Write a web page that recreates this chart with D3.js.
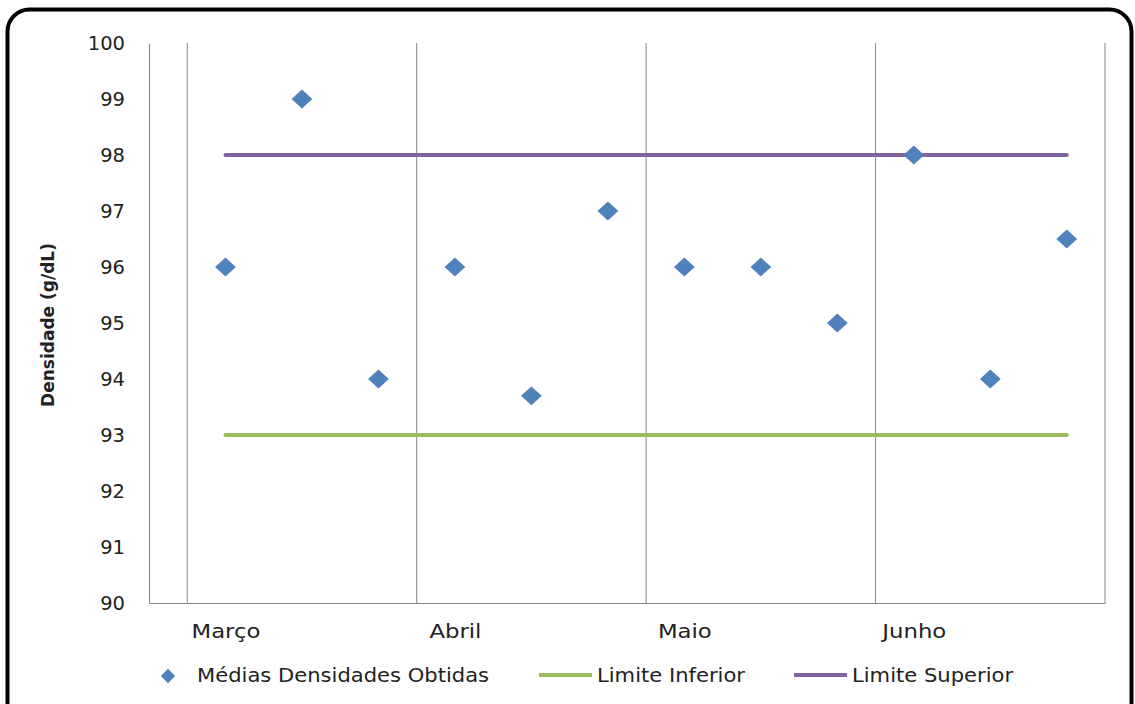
<!DOCTYPE html>
<html>
<head>
<meta charset="utf-8">
<script src="https://cdn.jsdelivr.net/npm/d3@7"></script>
<style>
  html, body { margin: 0; padding: 0; background: #ffffff; }
  svg { display: block; }
  text { font-family: "DejaVu Sans", "Open Sans", sans-serif; fill: #222; }
</style>
</head>
<body>
<svg id="chart" width="1135" height="704"></svg>
<script>
// Monthly density samples (three per month)
const sampleIndex = [1, 2, 3, 4, 5, 6, 7, 8, 9, 10, 11, 12];
const densityValues = [96, 99, 94, 96, 93.7, 97, 96, 96, 95, 98, 94, 96.5];
const monthLabels = ["Março", "Abril", "Maio", "Junho"];
const monthTickPositions = [1, 4, 7, 10];
const monthGridPositions = [0.5, 3.5, 6.5, 9.5, 12.5];
const yTicks = [90, 91, 92, 93, 94, 95, 96, 97, 98, 99, 100];
const lowerLimit = [93, 93];
const upperLimit = [98, 98];
const limitRange = [1, 12];
const seriesNames = ["Médias Densidades Obtidas", "Limite Inferior", "Limite Superior"];

const colors = { points: "#4F81BD", lower: "#9BBB59", upper: "#8064A2" };

const svg = d3.select("#chart");

// Rounded frame
svg.append("rect")
  .attr("x", 7.5).attr("y", 9.5)
  .attr("width", 1124).attr("height", 720)
  .attr("rx", 22).attr("ry", 22)
  .attr("fill", "#fff").attr("stroke", "#000").attr("stroke-width", 4);

const plot = { left: 149, right: 1105, top: 43, bottom: 603 };

const x = d3.scaleLinear().domain([0, 12.5]).range([plot.left, plot.right]);
const y = d3.scaleLinear().domain([90, 100]).range([plot.bottom, plot.top]);

// Vertical month gridlines
svg.append("g").selectAll("line")
  .data(monthGridPositions).join("line")
  .attr("x1", d => x(d)).attr("x2", d => x(d))
  .attr("y1", y(100)).attr("y2", y(90))
  .attr("stroke", "#878787").attr("stroke-width", 1);

// Y axis
const yAxis = svg.append("g")
  .attr("transform", `translate(${plot.left},0)`)
  .call(d3.axisLeft(y).tickValues(yTicks).tickSize(0).tickPadding(24).tickFormat(d3.format("d")));
yAxis.select(".domain").attr("stroke", "#878787");
yAxis.selectAll("text").attr("font-size", 19.5).attr("fill", "#222")
  .attr("font-family", "DejaVu Sans, sans-serif");

// X axis (labels slightly widened)
const xAxis = svg.append("g")
  .attr("transform", `translate(0,${plot.bottom})`)
  .call(d3.axisBottom(x).tickValues(monthTickPositions).tickSize(0).tickPadding(22)
    .tickFormat((d, i) => monthLabels[i]));
xAxis.select(".domain").attr("stroke", "#878787");
xAxis.selectAll("text").attr("font-size", 19).attr("fill", "#222")
  .attr("font-family", "DejaVu Sans, sans-serif")
  .attr("transform", "scale(1.2,1)");

// Y axis title
svg.append("text")
  .attr("transform", `translate(54,${(plot.top + plot.bottom) / 2 + 2}) rotate(-90)`)
  .attr("text-anchor", "middle")
  .attr("font-size", 17).attr("font-weight", "bold")
  .attr("font-family", "Liberation Sans Narrow, Roboto Condensed, Liberation Sans, sans-serif")
  .attr("fill", "#111")
  .text("Densidade (g/dL)");

// Limit lines
const limitLine = d3.line().x(d => x(d[0])).y(d => y(d[1]));
svg.append("path")
  .datum(limitRange.map((r, i) => [r, lowerLimit[i]]))
  .attr("d", limitLine)
  .attr("fill", "none").attr("stroke", colors.lower).attr("stroke-width", 4)
  .attr("stroke-linecap", "round");
svg.append("path")
  .datum(limitRange.map((r, i) => [r, upperLimit[i]]))
  .attr("d", limitLine)
  .attr("fill", "none").attr("stroke", colors.upper).attr("stroke-width", 4)
  .attr("stroke-linecap", "round");

// Diamond markers
const diamond = d3.symbol().type(d3.symbolDiamond2).size(250);
svg.append("g").selectAll("path")
  .data(sampleIndex.map((s, i) => [s, densityValues[i]]))
  .join("path")
  .attr("d", diamond)
  .attr("transform", d => `translate(${x(d[0])},${y(d[1])}) scale(1.05,0.95)`)
  .attr("fill", colors.points);

// Legend
const legend = svg.append("g").attr("font-size", 19);
legend.append("path")
  .attr("d", d3.symbol().type(d3.symbolDiamond2).size(130))
  .attr("transform", "translate(168,676)")
  .attr("fill", colors.points);

const legendText = (x0, label) => legend.append("text")
  .attr("transform", `translate(${x0},682) scale(1.11,1)`)
  .text(label);

legendText(197, seriesNames[0]);

legend.append("line").attr("x1", 539).attr("x2", 592).attr("y1", 675).attr("y2", 675)
  .attr("stroke", colors.lower).attr("stroke-width", 4);
legendText(597, seriesNames[1]);

legend.append("line").attr("x1", 794).attr("x2", 847).attr("y1", 675).attr("y2", 675)
  .attr("stroke", colors.upper).attr("stroke-width", 4);
legendText(852, seriesNames[2]);
</script>
</body>
</html>
